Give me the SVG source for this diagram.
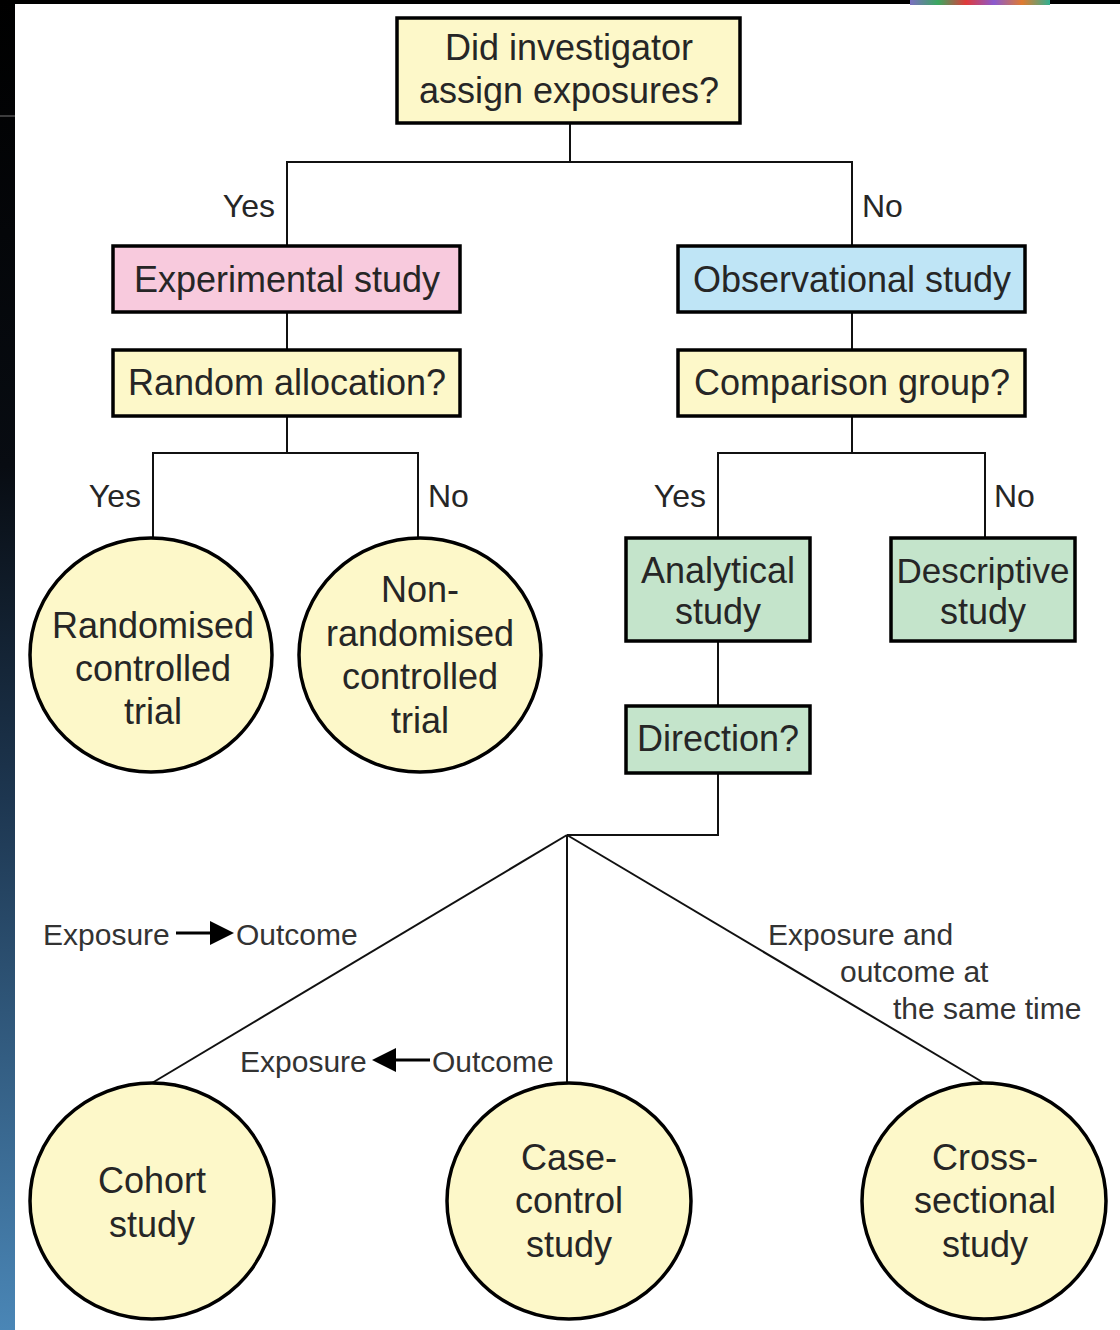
<svg xmlns="http://www.w3.org/2000/svg" width="1120" height="1330" viewBox="0 0 1120 1330">
<defs>
<linearGradient id="leftStrip" x1="0" y1="0" x2="0" y2="1">
<stop offset="0" stop-color="#000000"/>
<stop offset="0.35" stop-color="#080c12"/>
<stop offset="0.6" stop-color="#1d3650"/>
<stop offset="1" stop-color="#4a86b6"/>
</linearGradient>
<linearGradient id="topDeco" x1="0" y1="0" x2="1" y2="0">
<stop offset="0" stop-color="#7a6fc0"/>
<stop offset="0.2" stop-color="#3aa860"/>
<stop offset="0.4" stop-color="#e03a3a"/>
<stop offset="0.6" stop-color="#8a5ad0"/>
<stop offset="0.8" stop-color="#e07a30"/>
<stop offset="1" stop-color="#30b090"/>
</linearGradient>
<style>
.box{stroke:#000;stroke-width:3.5}
.yellow{fill:#fdf8c9}
.pink{fill:#f8cadd}
.blue{fill:#bfe5f6}
.green{fill:#c4e4cb}
.circ{fill:#fdf8c9;stroke:#000;stroke-width:3.5}
.t{font-family:"Liberation Sans",Arial,sans-serif;font-size:36px;fill:#262626;text-anchor:middle}
.lbl{font-family:"Liberation Sans",Arial,sans-serif;font-size:32px;fill:#262626}
.sm{font-family:"Liberation Sans",Arial,sans-serif;font-size:30px;fill:#333}
.ln{stroke:#111;stroke-width:2;fill:none}
</style>
</defs>
<rect x="0" y="0" width="1120" height="1330" fill="#ffffff"/>
<rect x="0" y="0" width="1120" height="4" fill="#000"/>
<rect x="910" y="0" width="140" height="5" fill="url(#topDeco)"/>
<rect x="0" y="0" width="15" height="1330" fill="url(#leftStrip)"/>
<line x1="0" y1="116" x2="15" y2="116" stroke="#777" stroke-width="1"/>

<g id="connectors">
<polyline class="ln" points="570,123 570,162"/>
<polyline class="ln" points="287,246 287,162 852,162 852,246"/>
<line class="ln" x1="287" y1="312" x2="287" y2="350"/>
<line class="ln" x1="852" y1="312" x2="852" y2="350"/>
<line class="ln" x1="287" y1="416" x2="287" y2="453"/>
<polyline class="ln" points="153,538 153,453 418,453 418,538"/>
<line class="ln" x1="852" y1="416" x2="852" y2="453"/>
<polyline class="ln" points="718,538 718,453 985,453 985,538"/>
<line class="ln" x1="718" y1="641" x2="718" y2="706"/>
<polyline class="ln" points="718,773 718,835 567,835"/>
<line class="ln" x1="567" y1="835" x2="152" y2="1083"/>
<line class="ln" x1="567" y1="835" x2="567" y2="1083"/>
<line class="ln" x1="567" y1="835" x2="984" y2="1083"/>
<text class="lbl" x="275" y="217" text-anchor="end">Yes</text>
<text class="lbl" x="862" y="217">No</text>
<text class="lbl" x="141" y="507" text-anchor="end">Yes</text>
<text class="lbl" x="428" y="507">No</text>
<text class="lbl" x="706" y="507" text-anchor="end">Yes</text>
<text class="lbl" x="994" y="507">No</text>
<text class="sm" x="43" y="945">Exposure</text>
<line x1="176" y1="933" x2="212" y2="933" stroke="#000" stroke-width="3"/>
<path d="M210,921 L234,933 L210,945 z" fill="#000"/>
<text class="sm" x="236" y="945">Outcome</text>
<text class="sm" x="240" y="1072">Exposure</text>
<path d="M396,1048 L372,1060 L396,1072 z" fill="#000"/>
<line x1="394" y1="1060" x2="430" y2="1060" stroke="#000" stroke-width="3"/>
<text class="sm" x="432" y="1072">Outcome</text>
<text class="sm" x="768" y="945">Exposure and</text>
<text class="sm" x="840" y="982">outcome at</text>
<text class="sm" x="893" y="1019">the same time</text>
</g>

<g id="n-assign">
<rect class="box yellow" x="397" y="18" width="343" height="105"/>
<text class="t" x="569" y="60">Did investigator</text>
<text class="t" x="569" y="103">assign exposures?</text>
</g>
<g id="n-experimental">
<rect class="box pink" x="113" y="246" width="347" height="66"/>
<text class="t" x="287" y="292">Experimental study</text>
</g>
<g id="n-random">
<rect class="box yellow" x="113" y="350" width="347" height="66"/>
<text class="t" x="287" y="395">Random allocation?</text>
</g>
<g id="n-observational">
<rect class="box blue" x="678" y="246" width="347" height="66"/>
<text class="t" x="852" y="292">Observational study</text>
</g>
<g id="n-comparison">
<rect class="box yellow" x="678" y="350" width="347" height="66"/>
<text class="t" x="852" y="395">Comparison group?</text>
</g>
<g id="n-rct">
<ellipse class="circ" cx="151" cy="655" rx="121" ry="117"/>
<text class="t" x="153" y="638">Randomised</text>
<text class="t" x="153" y="681">controlled</text>
<text class="t" x="153" y="724">trial</text>
</g>
<g id="n-nrct">
<ellipse class="circ" cx="420" cy="655" rx="121" ry="117"/>
<text class="t" x="420" y="602">Non-</text>
<text class="t" x="420" y="646">randomised</text>
<text class="t" x="420" y="689">controlled</text>
<text class="t" x="420" y="733">trial</text>
</g>
<g id="n-analytical">
<rect class="box green" x="626" y="538" width="184" height="103"/>
<text class="t" x="718" y="583">Analytical</text>
<text class="t" x="718" y="624">study</text>
</g>
<g id="n-descriptive">
<rect class="box green" x="891" y="538" width="184" height="103"/>
<text class="t" x="983" y="583" style="font-size:35px">Descriptive</text>
<text class="t" x="983" y="624">study</text>
</g>
<g id="n-direction">
<rect class="box green" x="626" y="706" width="184" height="67"/>
<text class="t" x="718" y="751">Direction?</text>
</g>
<g id="n-cohort">
<ellipse class="circ" cx="152" cy="1201" rx="122" ry="118"/>
<text class="t" x="152" y="1193">Cohort</text>
<text class="t" x="152" y="1237">study</text>
</g>
<g id="n-casecontrol">
<ellipse class="circ" cx="569" cy="1201" rx="122" ry="118"/>
<text class="t" x="569" y="1170">Case-</text>
<text class="t" x="569" y="1213">control</text>
<text class="t" x="569" y="1257">study</text>
</g>
<g id="n-crosssectional">
<ellipse class="circ" cx="984" cy="1201" rx="122" ry="118"/>
<text class="t" x="985" y="1170">Cross-</text>
<text class="t" x="985" y="1213">sectional</text>
<text class="t" x="985" y="1257">study</text>
</g>
</svg>
